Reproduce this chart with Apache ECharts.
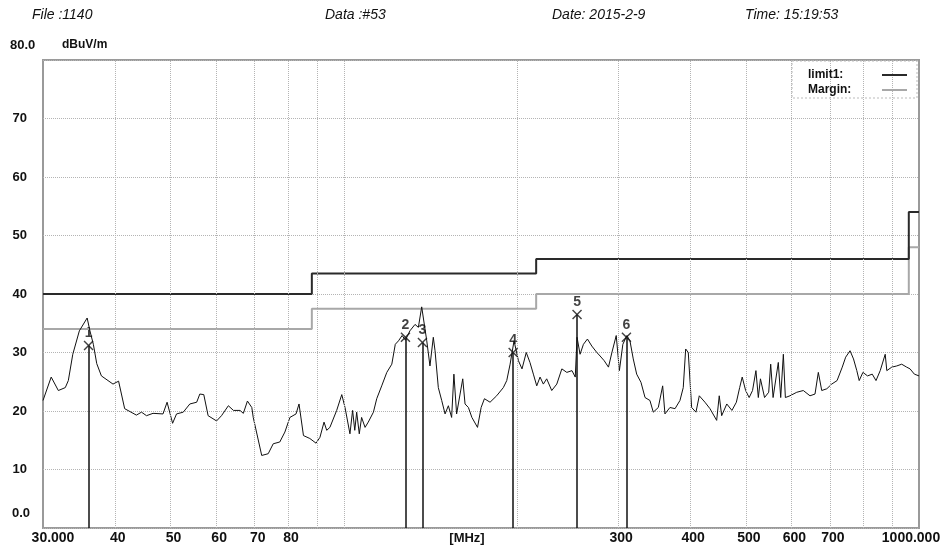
<!DOCTYPE html>
<html>
<head>
<meta charset="utf-8">
<script src="https://cdn.jsdelivr.net/npm/echarts@6/dist/echarts.min.js"></script>
<style>
  html, body { margin: 0; padding: 0; background: #fff; }
  #chart { width: 945px; height: 546px; }
</style>
</head>
<body>
<div id="chart"></div>
<script>
const traceFreq = [30.0,31.0,31.9,32.8,33.2,33.8,34.7,35.8,36.2,36.7,
  37.2,37.9,39.7,40.6,41.6,43.6,44.5,45.4,46.6,48.5,
  49.3,50.4,51.2,52.6,54.0,55.5,56.2,57.1,58.1,60.1,
  61.3,63.0,64.3,66.0,66.9,68.0,69.2,69.6,72.0,73.9,
  75.4,77.4,79.0,80.6,82.6,83.6,85.1,87.3,89.5,90.9,
  92.4,93.4,94.6,97.2,99.2,100.5,102.5,103.6,104.5,105.3,
  106.4,107.4,108.9,110.3,112.6,114.1,116.4,118.8,121.2,122.9,
  124.5,126.3,128.0,130.3,133.0,134.8,136.6,139.4,141.2,143.1,
  144.1,146.0,148.0,150.0,152.0,153.0,154.0,155.4,157.1,159.3,
  161.0,162.5,164.7,167.0,170.8,173.3,175.6,179.6,184.4,189.4,
  192.0,194.6,197.7,201.2,204.1,207.6,210.7,213.6,216.5,219.4,
  222.3,225.3,229.9,234.6,239.4,244.2,249.3,252.6,254.4,257.5,
  261.0,265.2,269.9,275.4,279.0,283.6,288.5,292.5,297.6,301.4,
  305.6,310.6,314.4,318.6,323.0,328.6,334.0,340.6,345.2,352.2,
  358.4,361.7,369.0,376.6,384.1,389.2,393.0,397.1,399.8,402.5,
  409.5,415.0,424.5,433.1,444.9,449.5,453.9,463.3,472.9,481.4,
  487.8,492.8,499.6,506.7,513.6,520.6,525.6,530.1,538.9,547.9,
  552.3,557.6,569.4,574.9,581.0,585.7,596.6,613.0,629.3,646.4,
  659.5,668.3,677.5,691.4,705.1,720.4,735.5,745.6,758.8,769.4,
  779.6,787.1,798.9,813.8,829.3,841.9,856.2,873.5,879.1,896.8,
  914.7,933.1,951.9,964.8,981.6,1000]
const traceLevel = [21.8,25.8,23.5,24.0,25.2,29.7,33.7,35.9,33.7,31.4,
  28.1,26.0,24.6,25.1,20.4,19.3,19.8,19.2,19.6,19.5,
  21.5,17.9,19.5,19.8,21.2,21.5,22.9,22.8,19.2,18.3,
  19.2,20.9,20.1,20.1,19.6,21.7,20.6,18.9,12.4,12.7,
  14.4,14.7,16.4,18.9,19.5,21.2,15.8,15.3,14.5,15.5,
  18.1,16.7,17.2,20.1,22.8,20.6,16.1,20.1,16.7,19.8,
  16.1,18.9,17.2,18.1,19.8,22.1,24.3,26.6,28.0,31.4,
  32.0,32.9,32.1,33.7,34.8,34.3,37.8,32.0,27.7,32.6,
  30.3,24.0,21.8,19.5,20.9,20.6,18.9,26.3,19.5,22.9,
  25.5,21.2,20.6,18.9,17.2,20.6,22.1,21.5,22.6,24.0,
  25.2,28.0,32.0,28.6,27.2,30.0,28.3,26.3,24.3,25.8,
  24.6,25.5,23.5,24.6,27.2,26.6,26.9,25.8,32.6,29.7,
  31.4,32.3,31.1,30.0,29.4,28.6,27.5,30.0,32.9,26.9,
  31.4,32.9,32.0,28.9,26.3,24.9,22.3,21.8,19.8,20.6,
  24.3,19.5,20.6,20.4,21.8,24.0,30.6,30.0,29.7,20.6,
  19.8,22.6,21.5,20.4,18.4,22.6,19.2,21.2,20.1,21.5,
  24.0,25.8,23.5,22.3,23.5,26.9,22.3,25.5,22.3,23.2,
  28.0,22.3,28.3,22.3,29.7,22.3,22.6,23.2,23.5,22.6,
  22.9,26.6,23.5,23.8,24.6,25.2,27.5,29.2,30.3,28.9,
  26.9,25.2,26.6,26.0,26.3,25.2,26.9,29.7,26.9,27.5,
  27.7,28.0,27.5,27.2,26.3,26.0]

// limit line and margin (limit - 6 dB)
const limitFreq = [30, 88, 88, 216, 216, 960, 960, 1000]
const limitLevel = [40, 40, 43.5, 43.5, 46, 46, 54, 54]
const marginLevel = [34, 34, 37.5, 37.5, 40, 40, 48, 48]

// markers
const markerNo = [1, 2, 3, 4, 5, 6]
const markerFreq = [36.0, 128.0, 137.0, 197.0, 254.4, 310.0]
const markerLevel = [31.2, 32.6, 31.7, 30.0, 36.5, 32.6]

// x axis grid / labels
const gridFreq = [40, 50, 60, 70, 80, 90, 100, 200, 300, 400, 500, 600, 700, 800, 900]
const tickFreq = [30, 40, 50, 60, 70, 80, 300, 400, 500, 600, 700, 1000]
const tickLabel = ['30.000', '40', '50', '60', '70', '80', '300', '400', '500', '600', '700', '1000.000']

const FONT = 'Liberation Sans, Arial, sans-serif'
const pair = (xs, ys) => xs.map((x, i) => [x, ys[i]])

const chart = echarts.init(document.getElementById('chart'))

function txt(text, x, y, font, align) {
  return {
    type: 'text', x, y, z: 10,
    style: { text, font, fill: '#111', textAlign: align || 'left', textVerticalAlign: 'middle' }
  }
}

chart.setOption({
  animation: false,
  backgroundColor: '#fff',
  grid: {
    left: 43, right: 26, top: 60, bottom: 18,
    show: true, borderColor: '#9a9a9a', borderWidth: 2
  },
  xAxis: {
    type: 'log', logBase: 10, min: 30, max: 1000,
    axisLine: { show: false }, axisTick: { show: false },
    axisLabel: { show: false }, splitLine: { show: false }
  },
  yAxis: {
    type: 'value', min: 0, max: 80, interval: 10,
    axisLine: { show: false }, axisTick: { show: false },
    axisLabel: {
      margin: 16, fontSize: 13, fontWeight: 'bold', color: '#111', fontFamily: FONT,
      formatter: v => (v === 0 || v === 80) ? '' : String(v)
    },
    splitLine: { lineStyle: { color: '#b4b4b4', type: 'dotted', width: 1 } }
  },
  legend: {
    data: ['limit1:', 'Margin:'],
    orient: 'vertical', left: 803, top: 64, align: 'right',
    itemGap: 3, itemWidth: 25, itemHeight: 2, icon: 'rect',
    formatter: name => '{t|' + name + '}',
    textStyle: {
      fontSize: 12, fontWeight: 'bold', color: '#111', fontFamily: FONT,
      rich: { t: { width: 69, align: 'left', fontSize: 12, fontWeight: 'bold', fontFamily: FONT } }
    },
    z: 12
  },
  graphic: [
    txt('File :1140', 32, 15, 'italic 14px ' + FONT),
    txt('Data :#53', 325, 15, 'italic 14px ' + FONT),
    txt('Date: 2015-2-9', 552, 15, 'italic 14px ' + FONT),
    txt('Time: 15:19:53', 745, 15, 'italic 14px ' + FONT),
    txt('80.0', 10, 45, 'bold 13px ' + FONT),
    txt('dBuV/m', 62, 45, 'bold 12px ' + FONT),
    txt('0.0', 12, 513, 'bold 13px ' + FONT),
    txt('[MHz]', 467, 538, 'bold 13px ' + FONT, 'center'),
    {
      type: 'rect', z: 3,
      shape: { x: 792, y: 61, width: 125, height: 37 },
      style: { fill: '#fff', stroke: '#bbb', lineWidth: 1, lineDash: [2, 2] }
    }
  ],
  series: [
    {
      name: 'Margin:',
      type: 'line',
      data: pair(limitFreq, marginLevel),
      symbol: 'none',
      lineStyle: { color: '#a8a8a8', width: 2 },
      itemStyle: { color: '#a8a8a8' },
      markLine: {
        silent: true, symbol: ['none', 'none'],
        label: { show: false },
        lineStyle: { color: '#b4b4b4', type: 'dotted', width: 1 },
        data: gridFreq.map(f => ({ xAxis: f }))
      }
    },
    {
      name: 'limit1:',
      type: 'line',
      data: pair(limitFreq, limitLevel),
      symbol: 'none',
      lineStyle: { color: '#2a2a2a', width: 2 },
      itemStyle: { color: '#2a2a2a' },
      // bottom tick labels for the log axis
      markLine: {
        silent: true, symbol: ['none', 'none'],
        lineStyle: { color: 'rgba(0,0,0,0)', width: 0 },
        label: {
          show: true, position: 'start', distance: 3,
          fontSize: 14, fontWeight: 'bold', color: '#111', fontFamily: FONT
        },
        data: tickFreq.map((f, i) => ({
          xAxis: f,
          label: {
            show: true,
            formatter: tickLabel[i],
            offset: [i === 0 ? 10 : (i === tickFreq.length - 1 ? -8 : 3), 0]
          }
        }))
      }
    },
    {
      name: 'trace',
      type: 'line',
      data: pair(traceFreq, traceLevel),
      symbol: 'none',
      lineStyle: { color: '#111', width: 1 }
    },
    {
      name: 'markers',
      type: 'scatter',
      data: pair(markerFreq, markerLevel),
      symbol: 'path://M0,1L1,0L5,4L9,0L10,1L6,5L10,9L9,10L5,6L1,10L0,9L4,5Z',
      symbolSize: 10,
      itemStyle: { color: '#111' },
      label: {
        show: true, position: 'top', distance: 0,
        fontSize: 14, fontWeight: 'bold', color: '#111', fontFamily: FONT,
        formatter: p => String(markerNo[p.dataIndex])
      },
      markLine: {
        silent: true, symbol: ['none', 'none'],
        label: { show: false },
        lineStyle: { color: '#111', width: 1.5, type: 'solid' },
        data: markerFreq.map((f, i) => [{ coord: [f, 0] }, { coord: [f, markerLevel[i]] }])
      }
    }
  ]
})
</script>
</body>
</html>
